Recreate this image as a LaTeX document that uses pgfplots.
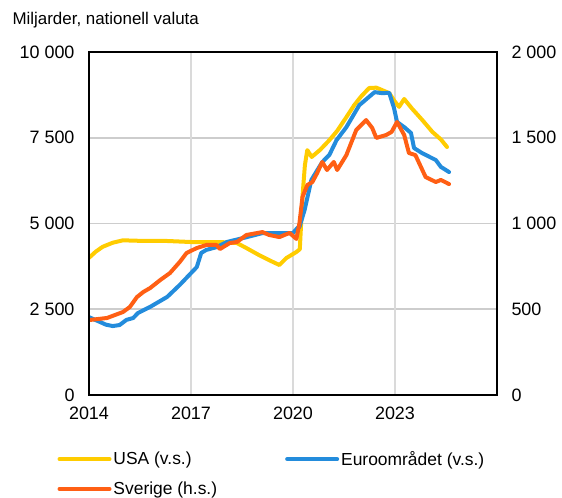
\documentclass[border=0pt]{standalone}
\usepackage{pgfplots}
\pgfplotsset{compat=1.18}
\usepackage{fontspec}
\setmainfont{Liberation Sans}
\definecolor{cusa}{RGB}{255,204,0}
\definecolor{ceur}{RGB}{35,140,220}
\definecolor{cswe}{RGB}{255,95,20}
\definecolor{cgrid}{RGB}{218,218,218}
\definecolor{cgridh}{RGB}{205,205,205}
\begin{document}
\begin{tikzpicture}
\path[use as bounding box] (0,0) rectangle (562bp,498bp);
\node[anchor=west,font=\fontsize{17}{20}\selectfont] at (9bp,478bp) {Miljarder, nationell valuta};
\begin{axis}[
  width=408bp, height=343bp, scale only axis,
  at={(89bp,103bp)}, anchor=south west,
  xmin=2014, xmax=2026,
  ymin=0, ymax=10000,
  xtick={2014,2017,2020,2023},
  xticklabels={2014,2017,2020,2023},
  ytick={0,2500,5000,7500,10000},
  yticklabels={0,2 500,5 000,7 500,10 000},
  major tick length=0pt,
  scaled y ticks=false,
  tick label style={font=\fontsize{18}{21}\selectfont},
  axis line style={draw=none},
  yticklabel style={xshift=-11bp},
  xticklabel style={yshift=-8bp},
  every axis plot/.append style={line width=4bp, line join=round, line cap=round},
]
% grid lines
\addplot[forget plot, cgridh, line width=1.6bp, line cap=butt] coordinates {(2014,2500)(2026,2500)};
\addplot[forget plot, cgridh, line width=1.6bp, line cap=butt] coordinates {(2014,5000)(2026,5000)};
\addplot[forget plot, cgridh, line width=1.6bp, line cap=butt] coordinates {(2014,7500)(2026,7500)};
\addplot[forget plot, cgrid, line width=1.2bp, line cap=butt] coordinates {(2017,0)(2017,10000)};
\addplot[forget plot, cgrid, line width=1.2bp, line cap=butt] coordinates {(2020,0)(2020,10000)};
\addplot[forget plot, cgrid, line width=1.2bp, line cap=butt] coordinates {(2023,0)(2023,10000)};
\addplot[cusa] coordinates {
(2014.0,4000)(2014.2,4180)(2014.4,4320)(2014.7,4440)(2015.0,4510)(2015.3,4500)
(2015.7,4490)(2016.3,4490)(2017.0,4460)(2017.85,4460)(2018.35,4430)(2018.6,4300)
(2019.0,4080)(2019.3,3930)(2019.6,3790)(2019.8,3990)(2020.1,4170)(2020.2,4250)
(2020.28,5800)(2020.35,6700)(2020.42,7140)(2020.55,6940)(2020.8,7150)(2021.07,7430)
(2021.3,7700)(2021.57,8100)(2021.8,8450)(2022.0,8700)(2022.24,8950)(2022.45,8960)
(2022.62,8890)(2022.83,8800)(2023.0,8550)(2023.12,8400)(2023.27,8630)(2023.5,8350)
(2023.8,8020)(2024.1,7670)(2024.35,7450)(2024.53,7230)
};
\addplot[ceur] coordinates {
(2014.0,2270)(2014.32,2130)(2014.5,2050)(2014.7,2010)(2014.9,2040)(2015.1,2190)
(2015.3,2245)(2015.44,2390)(2015.8,2570)(2016.3,2860)(2016.67,3210)(2017.17,3730)
(2017.3,4140)(2017.45,4230)(2017.75,4310)(2018.05,4460)(2018.63,4600)(2019.1,4720)
(2020.0,4720)(2020.13,4870)(2020.19,4900)(2020.34,5390)(2020.54,6270)(2020.86,6790)
(2021.07,7000)(2021.28,7430)(2021.57,7810)(2021.95,8450)(2022.4,8830)(2022.62,8800)
(2022.83,8810)(2022.97,8370)(2023.06,7960)(2023.27,7810)(2023.47,7640)(2023.56,7200)
(2023.8,7050)(2024.2,6850)(2024.35,6650)(2024.59,6500)
};
\end{axis}
\begin{axis}[
  width=408bp, height=343bp, scale only axis,
  at={(89bp,103bp)}, anchor=south west,
  xmin=2014, xmax=2026,
  ymin=0, ymax=2000,
  axis y line*=right, axis x line=none,
  ytick={0,500,1000,1500,2000},
  yticklabels={0,500,1 000,1 500,2 000},
  major tick length=0pt,
  tick label style={font=\fontsize{18}{21}\selectfont},
  axis line style={draw=none},
  yticklabel style={xshift=11bp},
  every axis plot/.append style={line width=4bp, line join=round, line cap=round},
  legend columns=2,
  legend style={draw=none, fill=none, at={(-0.085,-0.152)}, anchor=north west,
    font=\fontsize{17.5}{21}\selectfont, row sep=11bp,
    /tikz/every even column/.append style={column sep=66bp}},
  legend cell align=left,
  legend image code/.code={\draw[#1,line width=4bp] (0bp,0bp) -- (50bp,0bp);},
]
\addlegendimage{cusa}
\addlegendentry{USA (v.s.)}
\addlegendimage{ceur}
\addlegendentry{Euroområdet (v.s.)}
\addplot[cswe] coordinates {
(2014.0,437)(2014.53,449)(2015.0,484)(2015.2,513)(2015.41,571)(2015.6,601)
(2015.8,624)(2016.1,671)(2016.38,711)(2016.67,776)(2016.87,828)(2017.17,857)
(2017.46,875)(2017.75,875)(2017.85,851)(2018.14,886)(2018.35,892)(2018.63,933)
(2019.1,950)(2019.3,933)(2019.6,921)(2019.9,945)(2020.1,910)(2020.19,1003)
(2020.28,1155)(2020.42,1224)(2020.57,1242)(2020.71,1294)(2020.86,1359)(2021.0,1312)
(2021.2,1359)(2021.3,1312)(2021.57,1399)(2021.86,1545)(2022.15,1603)(2022.33,1557)
(2022.45,1499)(2022.74,1516)(2022.9,1534)(2023.06,1592)(2023.27,1516)(2023.41,1411)
(2023.6,1399)(2023.9,1271)(2024.2,1242)(2024.35,1254)(2024.59,1230)
};
\addlegendentry{Sverige (h.s.)}
\end{axis}
\begin{axis}[
  width=408bp, height=343bp, scale only axis,
  at={(89bp,103bp)}, anchor=south west,
  xmin=2014, xmax=2026, ymin=0, ymax=10000,
  ticks=none,
  axis line style={line width=1.8bp,black},
]
\end{axis}
\end{tikzpicture}
\end{document}
